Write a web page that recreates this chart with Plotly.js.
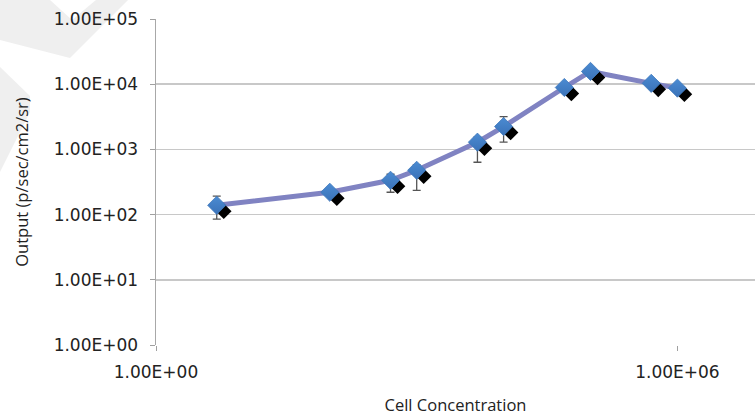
<!DOCTYPE html>
<html>
<head>
<meta charset="utf-8">
<script src="https://cdn.plot.ly/plotly-3.0.1.min.js"></script>
<style>html,body{margin:0;padding:0;background:#fff;}#chart{width:755px;height:416px;}</style>
</head>
<body>
<div id="chart"></div>
<script>
// Data
var cellConcentration = [5, 100, 500, 1000, 5000, 10000, 50000, 100000, 500000, 1000000];
var outputValues = [139, 220, 336, 478, 1290, 2240, 8900, 15700, 10300, 8700];
var errorPlus = [53, 20, 80, 100, 250, 950, 800, 1200, 900, 700];
var errorMinus = [54, 20, 116, 242, 655, 950, 800, 1200, 900, 700];
var yTickVals = [1, 10, 100, 1000, 10000, 100000];
var yTickText = ["1.00E+00", "1.00E+01", "1.00E+02", "1.00E+03", "1.00E+04", "1.00E+05"];
var xTickVals = [1, 1000000];
var xTickText = ["1.00E+00", "1.00E+06"];

var W = 755, H = 416;
var M = {l: 156, r: 0, t: 19, b: 71};
var plotW = W - M.l - M.r, plotH = H - M.t - M.b;
var xRange = [0, 6.893];
var yRange = [0, 5];
// shadow offset in pixels (down-right)
var sdx = 7, sdy = 6;
var dxLog = sdx * (xRange[1] - xRange[0]) / plotW;
var dyLog = sdy * (yRange[1] - yRange[0]) / plotH;

function px(x) { return (x - M.l) / plotW; }
function py(y) { return 1 - (y - M.t) / plotH; }
function poly(pts) {
  return 'M' + pts.map(function(p){ return px(p[0]).toFixed(4) + ',' + py(p[1]).toFixed(4); }).join(' L') + ' Z';
}

var tickFam = '"DejaVu Sans", Verdana, sans-serif';
var titleFam = '"Open Sans", "DejaVu Sans", sans-serif';

var lineTrace = {
  x: cellConcentration, y: outputValues,
  type: 'scatter', mode: 'lines',
  line: {color: '#8083c2', width: 5},
  error_y: {type: 'data', symmetric: false, array: errorPlus, arrayminus: errorMinus,
            color: '#555555', thickness: 1.3, width: 4},
  xaxis: 'x', yaxis: 'y', hoverinfo: 'x+y', showlegend: false
};
var shadowTrace = {
  x: cellConcentration, y: outputValues,
  type: 'scatter', mode: 'markers',
  marker: {symbol: 'diamond', size: 12, color: '#000000'},
  xaxis: 'x2', yaxis: 'y2', hoverinfo: 'skip', showlegend: false
};
var markerTrace = {
  x: cellConcentration, y: outputValues,
  type: 'scatter', mode: 'markers',
  marker: {symbol: 'diamond', size: 14, color: '#4b8bd2',
           gradient: {type: 'vertical', color: '#3a72b8'},
           line: {color: '#3f78bd', width: 0.8}},
  xaxis: 'x3', yaxis: 'y3', hoverinfo: 'x+y', showlegend: false
};

var hiddenAxis = {type: 'log', visible: false, showgrid: false, zeroline: false, fixedrange: true};

var layout = {
  width: W, height: H,
  margin: M,
  paper_bgcolor: '#ffffff', plot_bgcolor: 'rgba(0,0,0,0)',
  font: {family: titleFam, color: '#222222', size: 16},
  showlegend: false,
  xaxis: {
    type: 'log', range: xRange,
    tickvals: xTickVals, ticktext: xTickText,
    ticks: 'outside', ticklen: 5, tickcolor: '#a0a0a0', tickwidth: 1,
    ticklabelstandoff: 7,
    showgrid: false, zeroline: false, showline: false,
    tickfont: {family: tickFam, size: 17, color: '#222222'},
    title: {text: 'Cell Concentration', font: {family: titleFam, size: 16.5, color: '#222222'}, standoff: 24}
  },
  yaxis: {
    type: 'log', range: yRange,
    tickvals: yTickVals, ticktext: yTickText,
    ticks: 'outside', ticklen: 5, tickcolor: '#a0a0a0', tickwidth: 1,
    ticklabelstandoff: 8,
    showgrid: true, gridcolor: '#c8c8c8', gridwidth: 1.5,
    showline: true, linecolor: '#a8a8a8', linewidth: 1.5,
    zeroline: false,
    tickfont: {family: tickFam, size: 17, color: '#222222'},
    title: {text: 'Output (p/sec/cm2/sr)', font: {family: titleFam, size: 16.5, color: '#222222'}, standoff: 21}
  },
  xaxis2: Object.assign({}, hiddenAxis, {overlaying: 'x', range: [xRange[0] - dxLog, xRange[1] - dxLog]}),
  yaxis2: Object.assign({}, hiddenAxis, {overlaying: 'y', range: [yRange[0] + dyLog, yRange[1] + dyLog]}),
  xaxis3: Object.assign({}, hiddenAxis, {overlaying: 'x', range: xRange}),
  yaxis3: Object.assign({}, hiddenAxis, {overlaying: 'y', range: yRange}),
  shapes: [
    {type: 'path', xref: 'paper', yref: 'paper', layer: 'below', line: {width: 0},
     fillcolor: '#efefef',
     path: poly([[0,0],[50,0],[72,20],[96,0],[128,0],[70,58],[0,40]])},
    {type: 'path', xref: 'paper', yref: 'paper', layer: 'below', line: {width: 0},
     fillcolor: '#efefef',
     path: poly([[0,67],[30,96],[30,112],[0,172]])}
  ]
};

Plotly.newPlot('chart', [lineTrace, shadowTrace, markerTrace], layout, {displayModeBar: false, staticPlot: true});
</script>
</body>
</html>
